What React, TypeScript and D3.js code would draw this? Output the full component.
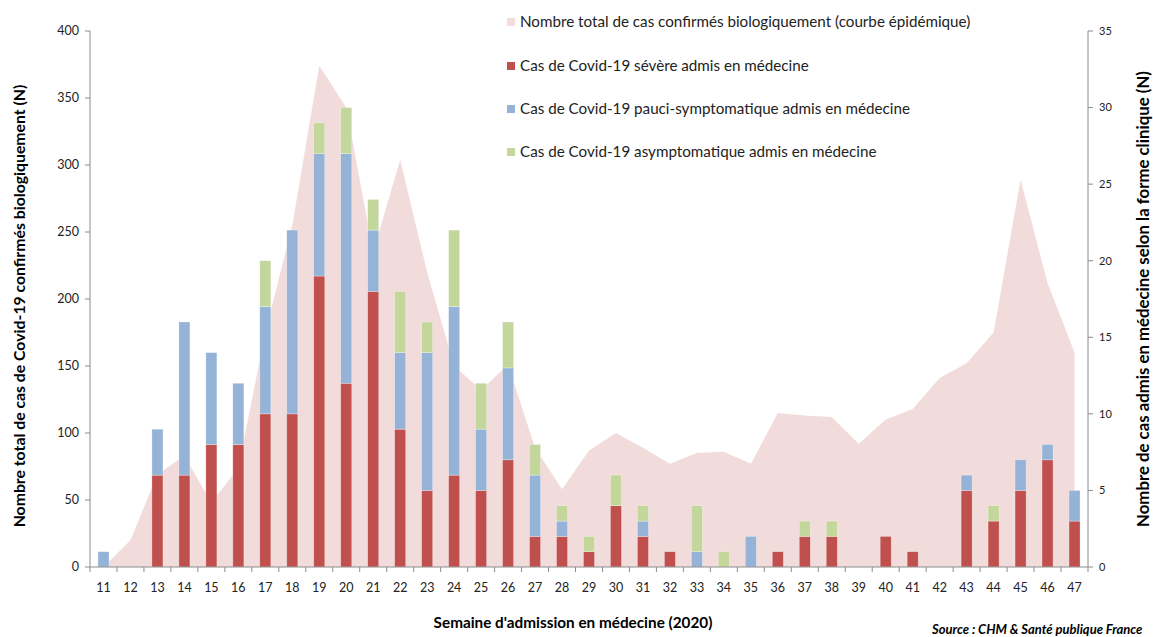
import React from "react";
import * as d3 from "d3";

const weeks = d3.range(11, 48);
const totalConfirmed = [0, 20, 69, 83, 48, 74, 175, 255, 374, 343, 235, 304, 220, 150, 132, 151, 89, 58, 87, 100, 89, 77, 85, 86, 77, 115, 113, 112, 92, 110, 118, 141, 152, 175, 289, 212, 160];
const severe = [0, 0, 6, 6, 8, 8, 10, 10, 19, 12, 18, 9, 5, 6, 5, 7, 2, 2, 1, 4, 2, 1, 0, 0, 0, 1, 2, 2, 0, 2, 1, 0, 5, 3, 5, 7, 3];
const pauci = [1, 0, 3, 10, 6, 4, 7, 12, 8, 15, 4, 5, 9, 11, 4, 6, 4, 1, 0, 0, 1, 0, 1, 0, 2, 0, 0, 0, 0, 0, 0, 0, 1, 0, 2, 1, 2];
const asympto = [0, 0, 0, 0, 0, 0, 3, 0, 2, 3, 2, 4, 2, 5, 3, 3, 2, 1, 1, 2, 1, 0, 3, 1, 0, 0, 1, 1, 0, 0, 0, 0, 0, 1, 0, 0, 0];
const leftTicks = [0, 50, 100, 150, 200, 250, 300, 350, 400];
const rightTicks = [0, 5, 10, 15, 20, 25, 30, 35];
const seriesKeys = ["severe", "pauci", "asympto"];
const legendLabels = [
  "Nombre total de cas confirmés biologiquement (courbe épidémique)",
  "Cas de Covid-19 sévère admis en médecine",
  "Cas de Covid-19 pauci-symptomatique admis en médecine",
  "Cas de Covid-19 asymptomatique admis en médecine",
];

const W = 1153, H = 637;
const X0 = 90, X1 = 1088, Y0 = 567, Y1 = 31;
const FONT = "Lato, 'Open Sans', sans-serif";
const AXIS = "#8c8c8c";
const COLORS: Record<string, string> = { severe: "#C0504D", pauci: "#95B3D7", asympto: "#C3D69B" };
const AREA = "#F2DCDB";

export default function App() {
  const x = d3.scaleBand<number>().domain(weeks).range([X0, X1]).padding(0);
  const yL = d3.scaleLinear().domain([0, 400]).range([Y0, Y1]);
  const yR = d3.scaleLinear().domain([0, 35]).range([Y0, Y1]);
  const bw = x.bandwidth();
  const barW = bw * 0.41;
  const cx = (w: number) => (x(w) as number) + bw / 2;

  const rows = weeks.map((w, i) => ({ week: w, severe: severe[i], pauci: pauci[i], asympto: asympto[i] }));
  const stacked = d3.stack<any>().keys(seriesKeys)(rows);

  const area = d3
    .area<number>()
    .x((_, i) => cx(weeks[i]))
    .y0(Y0)
    .y1((d) => yL(d));

  const legendY = [22, 66, 109, 152];
  const legendColors = [AREA, COLORS.severe, COLORS.pauci, COLORS.asympto];

  return (
    <svg width={W} height={H} style={{ position: "absolute", left: 0, top: 0, background: "#fff" }} fontFamily={FONT}>
      <path d={area(totalConfirmed) || ""} fill={AREA} />
      {stacked.map((s) => (
        <g key={s.key} fill={COLORS[s.key]}>
          {s.map((d, i) =>
            d[1] - d[0] > 0 ? (
              <rect
                key={i}
                x={cx(weeks[i]) - barW / 2}
                y={yR(d[1])}
                width={barW}
                height={yR(d[0]) - yR(d[1])}
                stroke="#ffffff"
                strokeOpacity={0.5}
                strokeWidth={0.6}
              />
            ) : null
          )}
        </g>
      ))}

      {/* left axis */}
      <line x1={X0} x2={X0} y1={Y1} y2={Y0} stroke={AXIS} />
      {leftTicks.map((t) => (
        <g key={t}>
          <line x1={X0 - 5} x2={X0} y1={yL(t)} y2={yL(t)} stroke={AXIS} />
          <text x={79} y={yL(t)} dy="0.35em" textAnchor="end" fontSize={12.5} fill="#222">
            {t}
          </text>
        </g>
      ))}
      {/* right axis */}
      <line x1={X1} x2={X1} y1={Y1} y2={Y0} stroke={AXIS} />
      {rightTicks.map((t) => (
        <g key={t}>
          <line x1={X1} x2={X1 + 5} y1={yR(t)} y2={yR(t)} stroke={AXIS} />
          <text x={1099} y={yR(t)} dy="0.35em" textAnchor="start" fontSize={11} fill="#222">
            {t}
          </text>
        </g>
      ))}
      {/* bottom axis */}
      <line x1={X0} x2={X1} y1={Y0} y2={Y0} stroke={AXIS} />
      {weeks.map((w) => (
        <line key={"t" + w} x1={x(w) as number} x2={x(w) as number} y1={Y0} y2={Y0 + 5} stroke={AXIS} />
      ))}
      <line x1={X1} x2={X1} y1={Y0} y2={Y0 + 5} stroke={AXIS} />
      {weeks.map((w) => (
        <text key={"l" + w} x={cx(w)} y={592} textAnchor="middle" fontSize={12.5} fill="#222">
          {w}
        </text>
      ))}

      {/* titles */}
      <text
        transform={`translate(25,${306}) rotate(-90)`}
        textAnchor="middle"
        fontSize={15.8}
        fontWeight="bold"
        fill="#000"
      >
        Nombre total de cas de Covid-19 confirmés biologiquement (N)
      </text>
      <text
        transform={`translate(1149,${299}) rotate(-90)`}
        textAnchor="middle"
        fontSize={16.8}
        fontWeight="bold"
        fill="#000"
      >
        Nombre de cas admis en médecine selon la forme clinique (N)
      </text>
      <text x={573} y={628} textAnchor="middle" fontSize={15.3} fontWeight="bold" fill="#000">
        Semaine d'admission en médecine (2020)
      </text>
      <text x={932} y={634} textAnchor="start" fontSize={13} fontWeight="bold" fontStyle="italic" fill="#000">
        Source : CHM &amp; Santé publique France
      </text>

      {/* legend */}
      {legendLabels.map((l, i) => (
        <g key={l}>
          <rect x={507} y={legendY[i] - 4} width={8} height={8} fill={legendColors[i]} />
          <text x={520} y={legendY[i]} dy="0.35em" fontSize={15.2} fill="#222">
            {l}
          </text>
        </g>
      ))}
    </svg>
  );
}
